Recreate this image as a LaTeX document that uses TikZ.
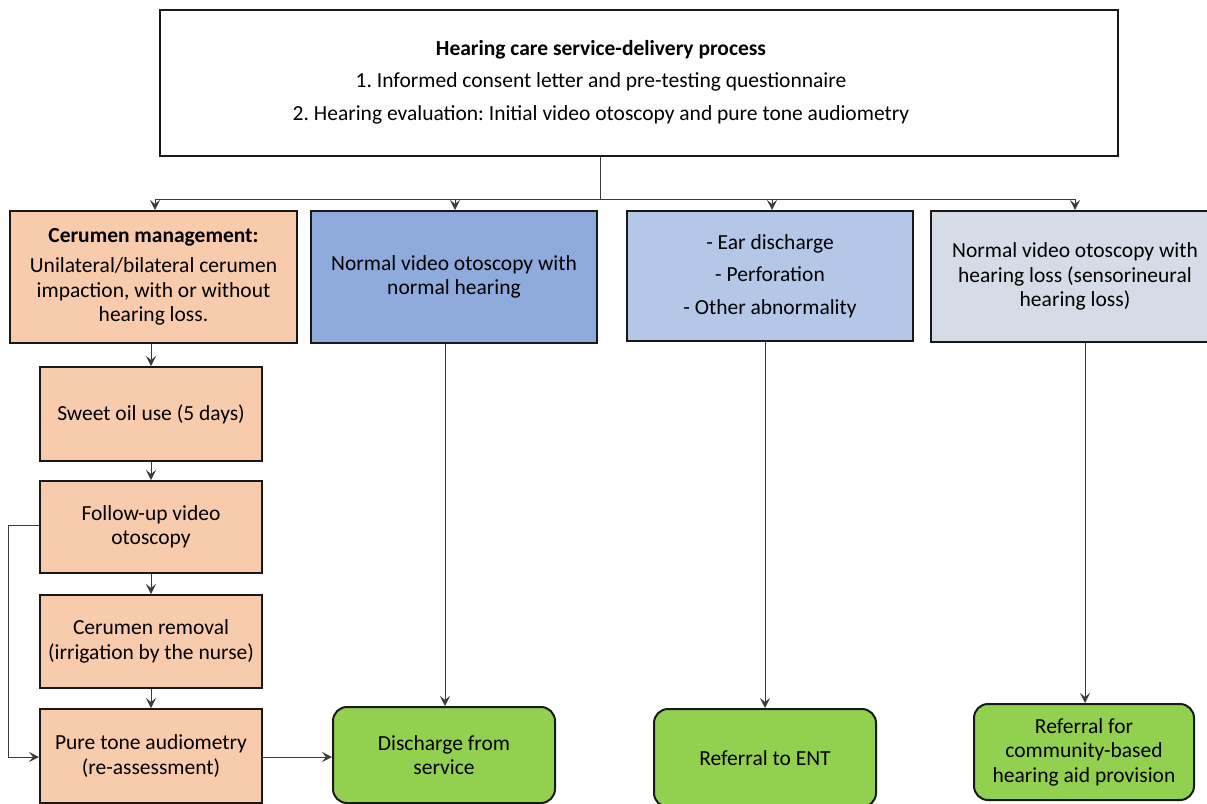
\documentclass[tikz,border=0pt]{standalone}
\usepackage{fontspec}
\setmainfont{Carlito}
\usetikzlibrary{arrows.meta}
\definecolor{cerfill}{HTML}{F8CBAD}
\definecolor{normfill}{HTML}{8FAADC}
\definecolor{earfill}{HTML}{B4C7E7}
\definecolor{hlfill}{HTML}{D6DCE5}
\definecolor{grnfill}{HTML}{92D050}
\definecolor{linegray}{HTML}{3A3A3A}
\frenchspacing
\begin{document}
\begin{tikzpicture}[x=1pt,y=-1pt,
  txt/.style={inner sep=0pt, align=center, font=\fontsize{21.5}{24.5}\selectfont},
  box/.style={txt, draw=black!90, line width=2pt, rectangle},
  rbox/.style={box, rounded corners=14pt, fill=grnfill},
  conn/.style={draw=linegray, line width=1pt},
  arr/.style={conn, -{Stealth[length=10pt,width=10pt,inset=4pt]}}
]
\useasboundingbox (0,0) rectangle (1207,803);
\begin{scope}
\clip (0,0) rectangle (1207,803);
% top box
\node[box, line width=2.8pt, fill=white, minimum width=958pt, minimum height=146pt] (top) at (639,83) {};
\node[txt] (toptext) at (601,82)
  {\textbf{Hearing care service-delivery process}\\[8pt]
   1. Informed consent letter and pre-testing questionnaire\\[8pt]
   2. Hearing evaluation: Initial video otoscopy and pure tone audiometry};
% row 1
\node[box, fill=cerfill, minimum width=287pt, minimum height=132pt] (cer) at (153.5,277)
  {\textbf{Cerumen management:}\\[6pt]Unilateral/bilateral cerumen\\impaction, with or without\\hearing loss.};
\node[box, fill=normfill, minimum width=286pt, minimum height=132pt] (norm) at (454,277)
  {Normal video otoscopy with\\normal hearing};
\node[box, fill=earfill, minimum width=286pt, minimum height=130pt] (ear) at (770,276)
  {- Ear discharge\\[8pt]- Perforation\\[8pt]- Other abnormality};
\node[box, fill=hlfill, minimum width=288pt, minimum height=131pt] (hl) at (1075,276.5)
  {Normal video otoscopy with\\hearing loss (sensorineural\\hearing loss)};
% left column
\node[box, fill=cerfill, minimum width=222pt, minimum height=94pt] (oil) at (151,414) {Sweet oil use (5 days)};
\node[box, fill=cerfill, minimum width=222pt, minimum height=92pt] (fol) at (151,527) {Follow-up video\\otoscopy};
\node[box, fill=cerfill, minimum width=222pt, minimum height=93pt] (rem) at (151,641.5) {Cerumen removal\\(irrigation by the nurse)};
\node[box, fill=cerfill, minimum width=222pt, minimum height=94pt] (pta) at (151,756) {Pure tone audiometry\\(re-assessment)};
% green boxes
\node[rbox, minimum width=222pt, minimum height=96pt] (dis) at (444,755) {Discharge from\\service};
\node[rbox, minimum width=222pt, minimum height=98pt] (ent) at (765,758) {Referral to ENT};
\node[rbox, minimum width=220pt, minimum height=96pt] (com) at (1084,752) {Referral for\\community-based\\hearing aid provision};
% top connectors
\coordinate (stem) at (600,199);
\coordinate (jl) at (155,199);
\coordinate (jn) at (455,199);
\coordinate (je) at (772,199);
\coordinate (jh) at (1075,199);
\draw[conn] (top.south -| stem) -- (stem);
\draw[conn] (jl) -- (jh);
\draw[arr] (jl) -- (jl |- cer.north);
\draw[arr] (jn) -- (jn |- norm.north);
\draw[arr] (je) -- (je |- ear.north);
\draw[arr] (jh) -- (jh |- hl.north);
% left chain
\draw[arr] (cer.south -| oil.north) -- (oil.north);
\draw[arr] (oil) -- (fol);
\draw[arr] (fol) -- (rem);
\draw[arr] (rem) -- (pta);
\coordinate (fb1) at (8,525);
\coordinate (fb2) at (8,757);
\draw[arr] (fol.west |- fb1) -- (fb1) -- (fb2) -- (pta.west |- fb2);
\draw[arr] (pta.east |- fb2) -- (dis.west |- fb2);
% verticals
\draw[arr] (norm.south -| 445,0) -- (dis.north -| 445,0);
\draw[arr] (ear.south -| 765,0) -- (ent.north -| 765,0);
\draw[arr] (hl.south -| 1085,0) -- (com.north -| 1085,0);
\end{scope}
\end{tikzpicture}
\end{document}
